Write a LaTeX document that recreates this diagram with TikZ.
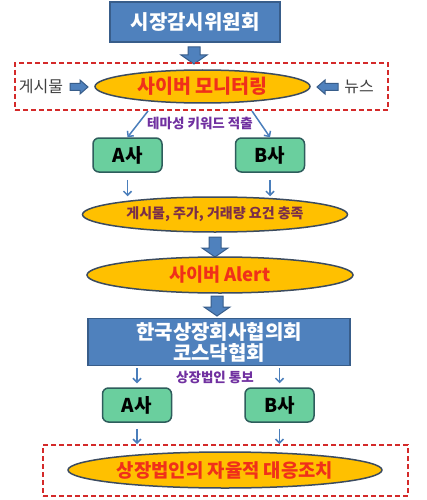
\documentclass[tikz,border=0pt]{standalone}
\usepackage{fontspec}
\setmainfont{Noto Sans CJK KR}
\usetikzlibrary{shapes.geometric,arrows.meta,calc}
\definecolor{boxblue}{HTML}{4F81BD}
\definecolor{boxblueedge}{HTML}{385D8A}
\definecolor{ellfill}{HTML}{FFC000}
\definecolor{elledge}{HTML}{3B4B5F}
\definecolor{grfill}{HTML}{6ACF9E}
\definecolor{gredge}{HTML}{2E5D5C}
\definecolor{dashred}{HTML}{D42A2A}
\definecolor{txtred}{HTML}{F0301A}
\definecolor{txtpurple}{HTML}{7030A0}
\definecolor{txtmaroon}{HTML}{7A2E4A}
\definecolor{arrblue}{HTML}{4A7EBB}
\tikzset{
  bluebox/.style={draw=boxblueedge,fill=boxblue,line width=1.5pt,inner sep=0pt,text=white,font=\bfseries\fontsize{20}{21}\selectfont,align=center},
  ell/.style={ellipse,draw=elledge,fill=ellfill,line width=1.5pt,inner sep=0pt},
  greenbox/.style={draw=gredge,fill=grfill,line width=1.5pt,rounded corners=6pt,inner sep=0pt,minimum width=69pt,minimum height=34pt,font=\bfseries\fontsize{19}{21}\selectfont},
  dashbox/.style={draw=dashred,line width=1.8pt,dash pattern=on 5pt off 3pt,inner sep=0pt},
  thinarr/.style={draw=arrblue,line width=1.5pt,-{Straight Barb[length=4pt,width=8pt]}},
  blk/.style={draw=boxblueedge,fill=boxblue,line width=1pt},
  sidetxt/.style={text=black!75,font=\fontsize{16}{18}\selectfont},
  purpletxt/.style={text=txtpurple,font=\bfseries\fontsize{13.5}{15}\selectfont}
}
\newcommand\BlkDown[3]{\draw[blk] ({#1-6},#2) -- ({#1+6},#2) -- ({#1+6},{#3-9}) -- ({#1+13},{#3-9}) -- (#1,#3) -- ({#1-13},{#3-9}) -- ({#1-6},{#3-9}) -- cycle;}
\newcommand\BlkRight[3]{\draw[blk] (#1,{#3-3.5}) -- ({#2-8},{#3-3.5}) -- ({#2-8},{#3-7}) -- (#2,#3) -- ({#2-8},{#3+7}) -- ({#2-8},{#3+3.5}) -- (#1,{#3+3.5}) -- cycle;}
\newcommand\BlkLeft[3]{\draw[blk] (#1,{#3-3.5}) -- ({#2+8},{#3-3.5}) -- ({#2+8},{#3-7}) -- (#2,#3) -- ({#2+8},{#3+7}) -- ({#2+8},{#3+3.5}) -- (#1,{#3+3.5}) -- cycle;}
\begin{document}
\begin{tikzpicture}[x=1pt,y=-1pt]
\useasboundingbox[fill=white] (0,0) rectangle (427,500);

% top box
\node[bluebox,minimum width=170pt,minimum height=40pt] (smc) at (195,22) {시장감시위원회};
\BlkDown{194}{47}{64}

% cyber monitoring
\node[dashbox,minimum width=373pt,minimum height=47pt] (mon) at (201.5,86.5) {};
\node[ell,minimum width=215pt,minimum height=33pt,text=txtred,font=\bfseries\fontsize{19.5}{21}\selectfont] (e1) at (202.5,86.5) {사이버 모니터링};
\node[sidetxt] (post) at (41,87) {게시물};
\node[sidetxt] (news) at (359,87) {뉴스};
\BlkRight{70}{88}{87}
\BlkLeft{338}{317}{87}

\node[purpletxt] (theme) at (200,123) {테마성 키워드 적출};
\node[greenbox] (a1) at (127.5,155) {A사};
\node[greenbox] (b1) at (270,155) {B사};
\coordinate (m1) at (148,111);
\coordinate (m2) at (252,111);
\draw[thinarr] (m1) -- (a1.north);
\draw[thinarr] (m2) -- (b1.north);

% condition ellipse
\node[ell,minimum width=265pt,minimum height=35pt,text=txtmaroon,font=\bfseries\fontsize{14}{16}\selectfont] (e2) at (215,214.5) {게시물, 주가, 거래량 요건 충족};
\draw[thinarr,shorten <=7pt,shorten >=0pt] (a1.south) -- (a1.south |- e2.north);
\draw[thinarr,shorten <=7pt,shorten >=0pt] (b1.south) -- (b1.south |- e2.north);
\BlkDown{215}{237}{257}

% alert
\node[ell,minimum width=266pt,minimum height=36pt,text=txtred,font=\bfseries\fontsize{18.5}{20}\selectfont] (e3) at (220,275) {사이버 Alert};
\BlkDown{217}{296}{316}

% associations
\node[bluebox,minimum width=262pt,minimum height=47pt] (assoc) at (219,342) {한국상장회사협의회\\코스닥협회};
\node[purpletxt] (notify) at (215,377) {상장법인 통보};
\node[greenbox] (a2) at (137,405) {A사};
\node[greenbox] (b2) at (279.5,405) {B사};
\draw[thinarr,shorten <=2pt,shorten >=4pt] (assoc.south -| a2.north) -- (a2.north);
\draw[thinarr,shorten <=2pt,shorten >=4pt] (assoc.south -| b2.north) -- (b2.north);

% final response
\node[dashbox,minimum width=365pt,minimum height=51pt] (resp) at (225.5,470.5) {};
\node[ell,minimum width=314pt,minimum height=36pt,text=txtred,font=\bfseries\fontsize{18.8}{20}\selectfont] (e4) at (225,470) {상장법인의 자율적 대응조치};
\draw[thinarr,shorten <=6pt,shorten >=0pt] (a2.south) -- (a2.south |- resp.north);
\draw[thinarr,shorten <=6pt,shorten >=0pt] (b2.south) -- (b2.south |- resp.north);
\end{tikzpicture}
\end{document}
